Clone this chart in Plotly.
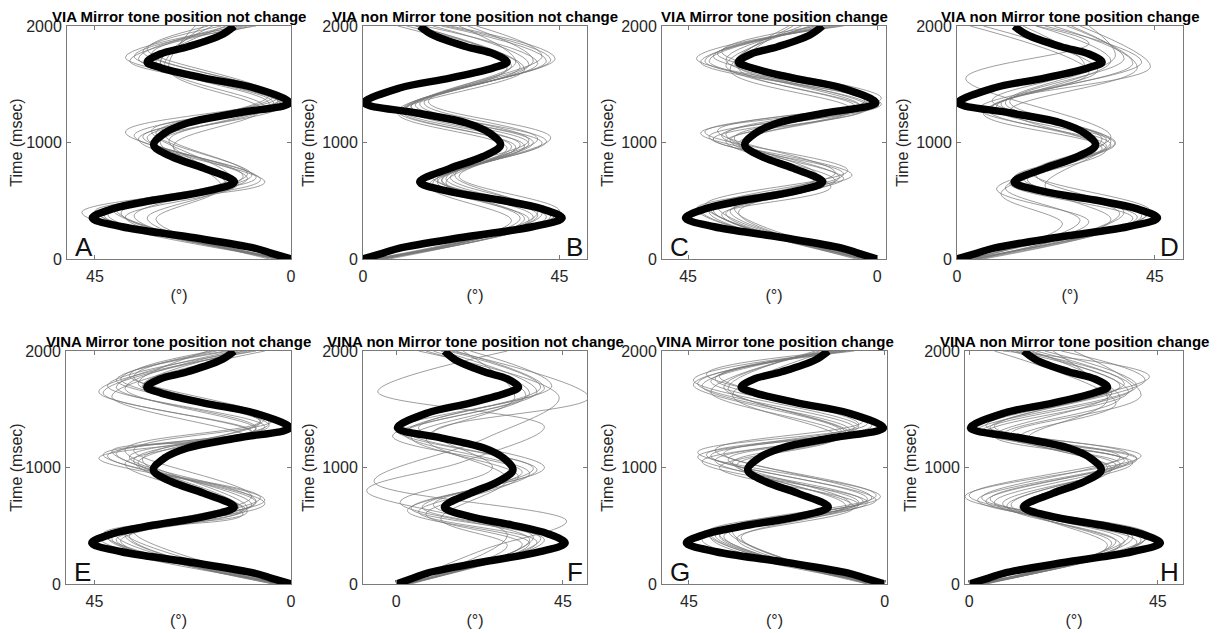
import plotly.graph_objects as go

# ---------------- data ----------------
titles = [
    "VIA Mirror tone position not change",
    "VIA non Mirror tone position not change",
    "VIA Mirror tone position change",
    "VIA non Mirror tone position change",
    "VINA Mirror tone position not change",
    "VINA non Mirror tone position not change",
    "VINA Mirror tone position change",
    "VINA non Mirror tone position change",
]
letters = ["A", "B", "C", "D", "E", "F", "G", "H"]
mirrored = [True, False, True, False, True, False, True, False]

# stimulus (thick black) trajectory: time (msec) and angle (deg)
stim_t = [0, 51, 94, 191, 277, 352, 430, 506, 578, 661, 778, 878, 979, 1080, 1167,
          1253, 1340, 1468, 1553, 1639, 1690, 1760, 1822, 1923, 2000]
stim_x = [0, 4.6, 8.4, 23.7, 38.8, 45.6, 41, 31.3, 19.9, 13, 19.9, 27.4, 31.5, 29, 23.7,
          12.3, 0.3, 8.4, 19.9, 29.7, 33, 30, 23.7, 16, 13]

# participant trajectories: (time msec, angle deg) key points
gray_A = [
    [(0, 1), (380, 42), (690, 10), (1040, 33), (1360, 3), (1720, 35), (2000, 14)],
    [(0, 2), (400, 48), (700, 8), (1060, 36), (1380, 2), (1700, 37), (2000, 10)],
    [(0, 3), (360, 38), (650, 12), (1000, 30), (1330, 5), (1680, 30), (2000, 18)],
    [(0, 2), (420, 40), (720, 9), (1080, 31), (1400, 4), (1760, 32), (2000, 12)],
    [(0, 4), (350, 33), (640, 15), (1020, 28), (1300, 6), (1650, 29), (2000, 20)],
    [(0, 1), (390, 44), (680, 7), (1050, 34), (1350, 1), (1740, 36), (2000, 8)],
    [(0, 3), (370, 36), (710, 11), (1090, 38), (1390, 3), (1780, 34), (2000, 16)],
    [(0, 2), (410, 45), (660, 6), (1010, 32), (1320, 2), (1700, 31), (2000, 9)],
    [(0, 5), (340, 31), (620, 16), (970, 27), (1280, 7), (1620, 28), (2000, 22)],
    [(0, 1), (395, 39), (730, 10), (1070, 29), (1410, 5), (1800, 33), (2000, 19)],
    [(0, 2), (380, 43), (670, 13), (1030, 35), (1370, 2), (1730, 38), (2000, 11)],
    [(0, 3), (430, 41), (700, 14), (1100, 32), (1340, 4), (1690, 30), (2000, 15)],
]
gray_B = [
    [(0, 3), (360, 42), (680, 18), (990, 38), (1300, 10), (1680, 40), (2000, 14)],
    [(0, 4), (380, 44), (700, 20), (1010, 42), (1320, 12), (1720, 44), (2000, 20)],
    [(0, 2), (340, 38), (650, 16), (960, 35), (1270, 8), (1650, 36), (2000, 10)],
    [(0, 5), (400, 40), (720, 21), (1030, 40), (1340, 14), (1700, 39), (2000, 24)],
    [(0, 3), (350, 36), (660, 17), (970, 37), (1280, 9), (1660, 34), (2000, 12)],
    [(0, 4), (370, 43), (690, 19), (1000, 39), (1310, 11), (1700, 42), (2000, 18)],
    [(0, 2), (330, 34), (630, 15), (950, 33), (1250, 8), (1640, 33), (2000, 8)],
    [(0, 6), (410, 45), (710, 22), (1040, 43), (1350, 15), (1740, 41), (2000, 26)],
    [(0, 3), (360, 39), (670, 18), (980, 36), (1290, 10), (1670, 38), (2000, 16)],
    [(0, 4), (390, 41), (700, 16), (1020, 38), (1330, 13), (1690, 35), (2000, 22)],
    [(0, 3), (345, 37), (655, 19), (965, 34), (1265, 9), (1630, 37), (2000, 12)],
    [(0, 5), (375, 40), (685, 17), (995, 41), (1305, 11), (1710, 43), (2000, 19)],
]
gray_C = [
    [(0, 2), (420, 42), (690, 8), (1050, 40), (1320, 2), (1700, 40), (2000, 12)],
    [(0, 3), (440, 40), (720, 6), (1080, 42), (1350, 0), (1720, 43), (2000, 10)],
    [(0, 1), (390, 36), (660, 12), (1020, 35), (1290, 3), (1660, 36), (2000, 16)],
    [(0, 4), (450, 38), (740, 10), (1100, 38), (1380, -1), (1760, 38), (2000, 8)],
    [(0, 2), (400, 33), (680, 15), (1000, 32), (1300, 5), (1640, 33), (2000, 20)],
    [(0, 3), (430, 43), (700, 9), (1060, 37), (1340, 1), (1700, 41), (2000, 13)],
    [(0, 2), (410, 35), (650, 13), (1040, 34), (1310, 4), (1680, 34), (2000, 18)],
    [(0, 5), (460, 41), (760, 7), (1090, 41), (1370, 2), (1740, 39), (2000, 9)],
    [(0, 1), (380, 37), (620, 11), (990, 33), (1280, 6), (1620, 35), (2000, 21)],
    [(0, 3), (420, 39), (710, 14), (1070, 36), (1360, 3), (1780, 37), (2000, 14)],
    [(0, 2), (435, 34), (730, 8), (1030, 39), (1330, -1), (1690, 42), (2000, 11)],
    [(0, 4), (405, 40), (670, 10), (1010, 36), (1300, 2), (1710, 36), (2000, 15)],
]
gray_D = [
    [(0, 3), (350, 40), (650, 12), (980, 35), (1300, 8), (1680, 40), (2000, 22)],
    [(0, 5), (380, 43), (690, 15), (1000, 36), (1330, 10), (1650, 44), (2000, 28)],
    [(0, 2), (320, 30), (600, 9), (950, 33), (1250, 6), (1700, 35), (2000, 18)],
    [(0, 4), (400, 38), (720, 18), (1020, 34), (1350, 12), (1720, 38), (2000, 25)],
    [(0, 3), (300, 24), (560, 10), (960, 32), (1280, 7), (1600, 30), (2000, 3)],
    [(0, 6), (360, 41), (670, 14), (990, 36), (1310, 9), (1690, 42), (2000, 20)],
    [(0, 4), (340, 35), (630, 20), (1010, 35), (1340, 11), (1740, 36), (2000, 30)],
    [(0, 2), (370, 42), (700, 13), (970, 34), (1290, 5), (1620, 32), (2000, 6)],
    [(0, 5), (390, 37), (680, 16), (1030, 33), (1360, 8), (1660, 29), (2000, 15)],
    [(0, 3), (330, 28), (610, 11), (940, 34), (1270, 12), (1640, 41), (2000, 26)],
    [(0, 4), (410, 44), (740, 17), (1050, 35), (1550, 2), (1850, 30), (2000, 18)],
]
gray_E = [
    [(0, 2), (400, 44), (700, 8), (1100, 42), (1350, 6), (1700, 42), (2000, 10)],
    [(0, 3), (420, 40), (650, 10), (1150, 38), (1400, 7), (1750, 40), (2000, 14)],
    [(0, 1), (380, 45), (720, 6), (1080, 44), (1300, 9), (1650, 44), (2000, 8)],
    [(0, 2), (440, 38), (600, 11), (1060, 36), (1380, 5), (1780, 36), (2000, 17)],
    [(0, 4), (390, 41), (680, 9), (1120, 40), (1330, 8), (1680, 38), (2000, 12)],
    [(0, 2), (410, 37), (740, 7), (1040, 35), (1420, 6), (1720, 35), (2000, 19)],
    [(0, 3), (430, 43), (660, 12), (1140, 41), (1260, 10), (1610, 41), (2000, 6)],
    [(0, 1), (370, 39), (710, 8), (1090, 37), (1360, 5), (1760, 39), (2000, 15)],
    [(0, 2), (450, 36), (620, 10), (1070, 34), (1390, 7), (1700, 34), (2000, 11)],
    [(0, 3), (400, 42), (690, 6), (1110, 43), (1310, 9), (1640, 43), (2000, 9)],
    [(0, 2), (420, 38), (750, 9), (1150, 36), (1410, 4), (1790, 37), (2000, 18)],
    [(0, 4), (380, 40), (640, 11), (1030, 38), (1340, 8), (1690, 40), (2000, 13)],
]
gray_F = [
    [(0, 2), (360, 38), (620, 6), (950, 36), (1290, 2), (1650, 38), (2000, 12)],
    [(0, 3), (380, 40), (650, 4), (980, 38), (1320, 0), (1680, 40), (2000, 16)],
    [(0, 1), (340, 34), (600, 8), (920, 33), (1260, 4), (1620, 35), (2000, 10)],
    [(0, 4), (400, 37), (680, 10), (1000, 40), (1340, 6), (1700, 42), (2000, 20)],
    [(0, 2), (350, 36), (630, 3), (960, 34), (1270, -1), (1640, 36), (2000, 8)],
    [(0, 3), (390, 39), (660, 7), (990, 37), (1310, 3), (1690, 39), (2000, 14)],
    [(0, 2), (330, 30), (560, 12), (900, 30), (1250, 8), (1600, 32), (2000, 18)],
    [(0, 1), (300, 24), (540, 46), (880, -6), (1250, 24), (1600, 44), (2000, 6)],
    [(0, 2), (420, 30), (800, -8), (1050, 18), (1350, 40), (1650, -5), (2000, 30)],
    [(0, 3), (380, 36), (700, 1), (1000, 26), (1300, 10), (1600, 52), (2000, 15)],
]
gray_G = [
    [(0, 2), (400, 40), (700, 4), (1050, 42), (1320, 8), (1700, 42), (2000, 12)],
    [(0, 3), (430, 38), (720, 2), (1100, 40), (1350, 6), (1750, 44), (2000, 9)],
    [(0, 1), (380, 42), (680, 6), (1000, 38), (1280, 10), (1650, 40), (2000, 15)],
    [(0, 4), (450, 35), (750, 1), (1130, 43), (1380, 4), (1780, 38), (2000, 8)],
    [(0, 2), (410, 37), (690, 8), (1070, 36), (1300, 9), (1680, 36), (2000, 16)],
    [(0, 3), (440, 41), (740, 3), (1150, 39), (1400, 5), (1800, 41), (2000, 10)],
    [(0, 2), (390, 34), (660, 7), (1020, 34), (1260, 11), (1620, 35), (2000, 13)],
    [(0, 1), (420, 39), (710, 5), (1090, 43), (1340, 7), (1720, 43), (2000, 11)],
    [(0, 3), (460, 36), (760, 2), (1120, 37), (1370, 6), (1760, 39), (2000, 7)],
    [(0, 2), (400, 33), (670, 9), (1040, 35), (1290, 8), (1690, 37), (2000, 14)],
    [(0, 4), (430, 40), (730, 4), (1110, 41), (1360, 3), (1740, 40), (2000, 12)],
    [(0, 2), (415, 38), (700, 6), (1060, 39), (1310, 10), (1710, 44), (2000, 9)],
]
gray_H = [
    [(0, 2), (360, 40), (700, 6), (1050, 38), (1300, 4), (1650, 38), (2000, 14)],
    [(0, 3), (390, 42), (720, 2), (1080, 40), (1320, 2), (1700, 40), (2000, 18)],
    [(0, 1), (340, 36), (680, 10), (1020, 35), (1280, 8), (1600, 36), (2000, 10)],
    [(0, 4), (410, 38), (750, -1), (1100, 41), (1350, 6), (1750, 42), (2000, 22)],
    [(0, 2), (350, 34), (660, 12), (1000, 33), (1260, 12), (1550, 35), (2000, 6)],
    [(0, 3), (380, 41), (710, 4), (1060, 37), (1310, 3), (1680, 39), (2000, 16)],
    [(0, 2), (370, 37), (690, 8), (1040, 39), (1290, 10), (1620, 41), (2000, 25)],
    [(0, 1), (420, 43), (740, 3), (1090, 36), (1340, 5), (1720, 37), (2000, 12)],
    [(0, 4), (330, 33), (650, 14), (990, 34), (1250, 14), (1580, 33), (2000, 20)],
    [(0, 3), (400, 39), (730, 5), (1070, 40), (1330, 1), (1780, 43), (2000, 8)],
    [(0, 2), (365, 35), (670, 9), (1030, 36), (1270, 6), (1640, 34), (2000, 15)],
    [(0, 3), (395, 42), (760, 0), (1110, 38), (1360, 4), (1700, 36), (2000, 11)],
]
grays = [gray_A, gray_B, gray_C, gray_D, gray_E, gray_F, gray_G, gray_H]

x_ranges = [[51.4, 0], [0, 51.3], [51.2, -2.1], [0, 51.4],
            [51.5, 0], [-9, 51.5], [51.2, -0.5], [-1, 51]]
y_range = [0, 2000]
y_ticks = [0, 1000, 2000]

# ---------------- layout geometry (pixels in the 1225x633 window) ----------------
OFF = 8  # the page body margin offsets the figure by 8 px
W, Hh = 1225 - OFF, 633 - OFF
x_px = [(67, 291), (363, 587), (662, 886), (957, 1183),
        (66, 291), (363, 587), (662, 887), (965, 1183)]
row_px = [(26, 259), (351, 584)]

FONT = "Liberation Sans, Arial, sans-serif"
AX_COL = "#7a7a7a"
TXT_COL = "#262626"

fig = go.Figure()
annotations = []
layout_axes = {}

for i in range(8):
    n = i + 1
    xa = "x" if n == 1 else f"x{n}"
    ya = "y" if n == 1 else f"y{n}"
    for curve in grays[i]:
        fig.add_trace(go.Scatter(
            x=[p[1] for p in curve], y=[p[0] for p in curve],
            mode="lines", line=dict(color="rgba(120,120,120,0.8)", width=0.9,
                                    shape="spline", smoothing=1.0),
            xaxis=xa, yaxis=ya, showlegend=False, hoverinfo="skip"))
    fig.add_trace(go.Scatter(
        x=stim_x, y=stim_t, mode="lines",
        line=dict(color="black", width=7.5, shape="spline", smoothing=1.0),
        xaxis=xa, yaxis=ya, showlegend=False, hoverinfo="skip"))

    r = 0 if i < 4 else 1
    x0, x1 = x_px[i][0] - OFF, x_px[i][1] - OFF
    y0, y1 = row_px[r][0] - OFF, row_px[r][1] - OFF
    xt = [45, 0] if mirrored[i] else [0, 45]
    layout_axes[("xaxis" if n == 1 else f"xaxis{n}")] = dict(
        domain=[x0 / W, x1 / W], anchor=ya, range=x_ranges[i], autorange=False,
        automargin=False,
        tickvals=xt, ticktext=[str(v) for v in xt], ticks="inside", ticklen=4,
        tickcolor=AX_COL, showline=True, linecolor=AX_COL, linewidth=1,
        mirror="allticks", showgrid=False, zeroline=False,
        tickfont=dict(family=FONT, size=16, color=TXT_COL), ticklabelstandoff=3,
        title=dict(text="(°)", font=dict(family=FONT, size=16, color=TXT_COL), standoff=5))
    layout_axes[("yaxis" if n == 1 else f"yaxis{n}")] = dict(
        domain=[1 - y1 / Hh, 1 - y0 / Hh], anchor=xa, range=y_range, autorange=False,
        automargin=False,
        tickvals=y_ticks, ticks="inside", ticklen=4, tickcolor=AX_COL,
        showline=True, linecolor=AX_COL, linewidth=1, mirror="allticks",
        showgrid=False, zeroline=False,
        tickfont=dict(family=FONT, size=16, color=TXT_COL), ticklabelstandoff=1,
        title=dict(text="Time (msec)", font=dict(family=FONT, size=16, color=TXT_COL),
                   standoff=3))
    annotations.append(dict(
        text=f"<b>{titles[i]}</b>", xref=f"{xa} domain", yref=f"{ya} domain",
        x=0.5, y=1, xanchor="center", yanchor="bottom", yshift=-1, showarrow=False,
        font=dict(family=FONT, size=15, color="black")))
    if mirrored[i]:
        annotations.append(dict(
            text=letters[i], xref=f"{xa} domain", yref=f"{ya} domain",
            x=0, y=0, xanchor="left", yanchor="bottom", xshift=6, yshift=-5,
            showarrow=False, font=dict(family=FONT, size=26, color="#111111")))
    else:
        annotations.append(dict(
            text=letters[i], xref=f"{xa} domain", yref=f"{ya} domain",
            x=1, y=0, xanchor="right", yanchor="bottom", xshift=-2, yshift=-5,
            showarrow=False, font=dict(family=FONT, size=26, color="#111111")))

fig.update_layout(
    width=W, height=Hh, margin=dict(l=0, r=0, t=0, b=0, autoexpand=False),
    paper_bgcolor="white", plot_bgcolor="white",
    annotations=annotations, showlegend=False, **layout_axes)

fig.write_html("out.html")
